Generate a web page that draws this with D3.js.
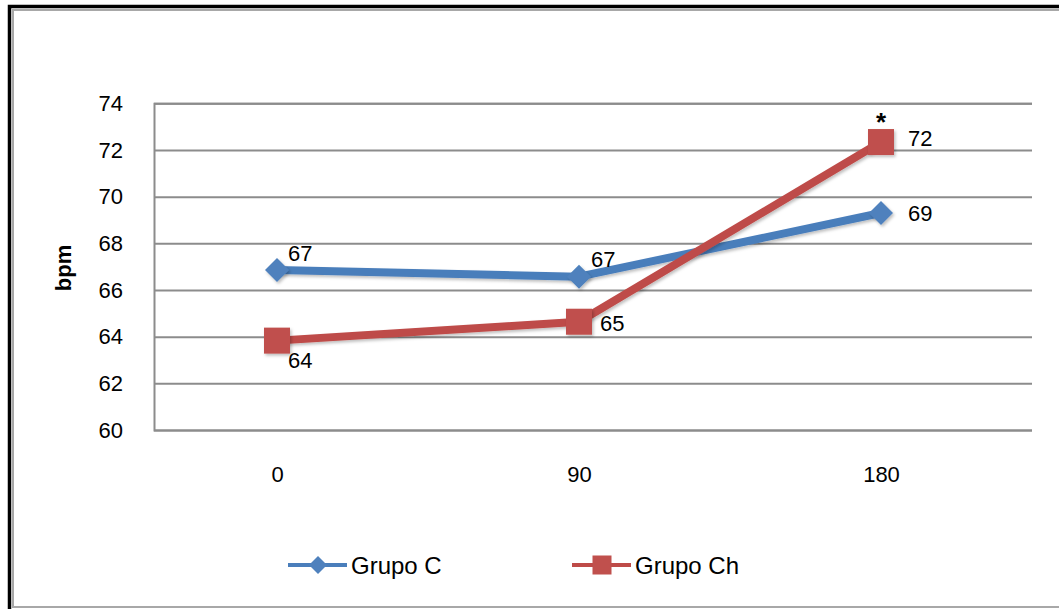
<!DOCTYPE html>
<html>
<head>
<meta charset="utf-8">
<script src="https://cdn.jsdelivr.net/npm/d3@7"></script>
<style>
  html, body { margin: 0; padding: 0; background: #fff; }
  svg { display: block; }
  text { font-family: "Liberation Sans", Arial, sans-serif; fill: #000; }
</style>
</head>
<body>
<svg id="chart" width="1059" height="609"></svg>
<script>
// ---- data ----
const categories = ["0", "90", "180"];
const grupoC  = [66.86, 66.57, 69.3];
const grupoCh = [63.83, 64.64, 72.34];
const seriesNames = ["Grupo C", "Grupo Ch"];
const yTicks = [60, 62, 64, 66, 68, 70, 72, 74];
const chSignificance = ["", "", "*"];
const yLabel = "bpm";

// ---- layout ----
const W = 1059, H = 609;
const plot = { left: 154, right: 1032, top: 103.3, bottom: 430 };
const blue = "#4A7EBB", blueFill = "#4F81BD";
const red = "#BE4B48", redFill = "#C0504D";

const svg = d3.select("#chart");

// frame
svg.append("rect").attr("x", 9.5).attr("y", 6.5).attr("width", W + 20).attr("height", H + 20)
  .attr("fill", "none").attr("stroke", "#000").attr("stroke-width", 3.5);
svg.append("rect").attr("x", 13).attr("y", 10).attr("width", W + 20).attr("height", 597)
  .attr("fill", "none").attr("stroke", "#a8a8a8").attr("stroke-width", 2);

const y = d3.scaleLinear().domain([60, 74]).range([plot.bottom, plot.top]);
const x = d3.scalePoint().domain(categories).range([277, 881]);

// shadow filter
const defs = svg.append("defs");
const f = defs.append("filter").attr("id", "sh").attr("x", "-30%").attr("y", "-30%").attr("width", "160%").attr("height", "160%");
f.append("feDropShadow").attr("dx", 1.5).attr("dy", 2).attr("stdDeviation", 1.5).attr("flood-color", "#000").attr("flood-opacity", 0.25);

// gridlines + y axis
const yAxis = d3.axisLeft(y).tickValues(yTicks).tickSize(-(plot.right - plot.left)).tickPadding(31).tickFormat(d3.format("d"));
const gy = svg.append("g").attr("transform", `translate(${plot.left},0)`).call(yAxis);
gy.select(".domain").attr("stroke", "#8c8c8c").attr("stroke-width", 2);
gy.selectAll(".tick line").attr("stroke", "#8c8c8c").attr("stroke-width", 2);
gy.selectAll(".tick text").attr("font-size", 22).attr("font-family", "Liberation Sans, Arial, sans-serif").attr("fill", "#000");

// x axis labels
const xAxis = d3.axisBottom(x).tickSize(0).tickPadding(36);
const gx = svg.append("g").attr("transform", `translate(0,${plot.bottom})`).call(xAxis);
gx.select(".domain").remove();
gx.selectAll(".tick text").attr("font-size", 22).attr("font-family", "Liberation Sans, Arial, sans-serif").attr("fill", "#000");

// y label
svg.append("text").attr("transform", "translate(71,268) rotate(-90)")
  .attr("text-anchor", "middle").attr("font-size", 22).attr("font-weight", "bold").text(yLabel);

const line = d3.line().x((d, i) => x(categories[i])).y(d => y(d));

const fmt = d3.format(".0f");

// Series Grupo C
svg.append("path").datum(grupoC).attr("d", line).attr("fill", "none")
  .attr("stroke", blue).attr("stroke-width", 8).attr("stroke-linejoin", "round").attr("filter", "url(#sh)");
// Series Grupo Ch
svg.append("path").datum(grupoCh).attr("d", line).attr("fill", "none")
  .attr("stroke", red).attr("stroke-width", 8).attr("stroke-linejoin", "round").attr("filter", "url(#sh)");

const diamond = (s) => `M0,${-s}L${s},0L0,${s}L${-s},0Z`;

svg.append("g").selectAll("path").data(grupoC).join("path")
  .attr("d", diamond(12))
  .attr("transform", (d, i) => `translate(${x(categories[i])},${y(d)})`)
  .attr("fill", blueFill).attr("filter", "url(#sh)");

svg.append("g").selectAll("rect").data(grupoCh).join("rect")
  .attr("x", (d, i) => x(categories[i]) - 13).attr("y", d => y(d) - 13)
  .attr("width", 26).attr("height", 26)
  .attr("fill", redFill).attr("filter", "url(#sh)");

// data labels
const cOffsets = [[11, -9], [12, -10], [27, 8]];
const chOffsets = [[11, 27], [21, 9], [27, 4]];
svg.append("g").selectAll("text").data(grupoC).join("text")
  .attr("x", (d, i) => x(categories[i]) + cOffsets[i][0])
  .attr("y", (d, i) => y(d) + cOffsets[i][1])
  .attr("font-size", 22).text(d => fmt(d));
svg.append("g").selectAll("text").data(grupoCh).join("text")
  .attr("x", (d, i) => x(categories[i]) + chOffsets[i][0])
  .attr("y", (d, i) => y(d) + chOffsets[i][1])
  .attr("font-size", 22).text(d => fmt(d));

// significance marks
svg.append("g").selectAll("text").data(grupoCh).join("text")
  .attr("x", (d, i) => x(categories[i]))
  .attr("y", d => y(d) - 11)
  .attr("text-anchor", "middle").attr("font-size", 26).attr("font-weight", "bold")
  .text((d, i) => chSignificance[i]);

// legend
const legend = [
  { name: seriesNames[0], color: blue, fill: blueFill, shape: "diamond", x0: 288 },
  { name: seriesNames[1], color: red, fill: redFill, shape: "square", x0: 572 }
];
const ly = 565;
const lg = svg.append("g");
legend.forEach(l => {
  lg.append("line").attr("x1", l.x0).attr("x2", l.x0 + 59).attr("y1", ly).attr("y2", ly)
    .attr("stroke", l.color).attr("stroke-width", 4);
  const cx = l.x0 + 30;
  if (l.shape === "diamond") {
    lg.append("path").attr("d", diamond(9)).attr("transform", `translate(${cx},${ly})`).attr("fill", l.fill);
  } else {
    lg.append("rect").attr("x", cx - 9.5).attr("y", ly - 9.5).attr("width", 19).attr("height", 19).attr("fill", l.fill);
  }
  lg.append("text").attr("x", l.x0 + 63).attr("y", ly).attr("dy", "0.36em")
    .attr("font-size", 24).text(l.name);
});
</script>
</body>
</html>
